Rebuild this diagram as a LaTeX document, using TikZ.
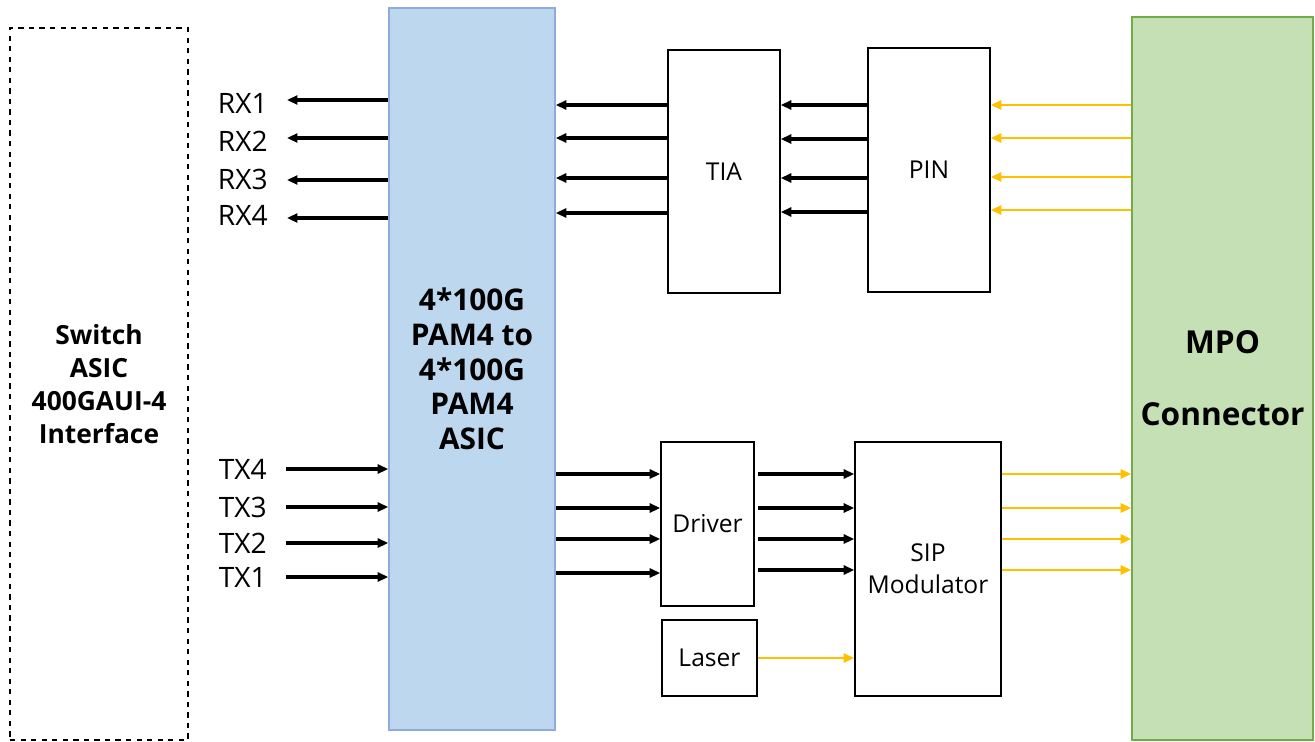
\documentclass[tikz,border=0pt]{standalone}
\usepackage{fontspec}
\setmainfont{Open Sans}
\usetikzlibrary{arrows.meta}
\definecolor{asicblue}{HTML}{BDD7EE}
\definecolor{asicedge}{HTML}{8FAADC}
\definecolor{mpogreen}{HTML}{C5E0B4}
\definecolor{mpoedge}{HTML}{70AD47}
\definecolor{fiber}{HTML}{FFC000}
\tikzset{
    blk/.style={draw, line width=0.9pt, align=center, inner sep=0pt, font=\fontsize{14}{18}\selectfont},
    sig/.style={-{Triangle[length=2.1mm,width=1.8mm]}, line width=1.9pt},
    opt/.style={-{Triangle[length=2.1mm,width=1.8mm]}, line width=1.5pt, fiber},
    lbl/.style={font=\fontsize{16}{18}\selectfont, inner sep=0pt}
}
\begin{document}
\begin{tikzpicture}[x=0.02cm, y=-0.02cm]
    \useasboundingbox (0,0) rectangle (1315,741);

    % Switch
    \node[draw, dashed, line width=0.9pt, minimum width=3.56cm, minimum height=14.24cm, align=center,
          font=\bfseries\fontsize{15}{18.7}\selectfont] (switch) at (99,384) {Switch\\ASIC\\400GAUI-4\\Interface};

    % ASIC
    \node[draw=asicedge, fill=asicblue, line width=0.9pt, minimum width=3.32cm, minimum height=14.44cm, align=center,
          font=\bfseries\fontsize{17}{19.8}\selectfont] (asic) at (472,369) {4*100G\\PAM4 to\\4*100G\\PAM4\\ASIC};

    % MPO
    \node[draw=mpoedge, fill=mpogreen, line width=0.9pt, minimum width=3.62cm, minimum height=14.46cm, align=center,
          font=\bfseries\fontsize{18}{41}\selectfont] (mpo) at (1222.5,378.5) {MPO\\Connector};

    % Receive path
    \node[blk, minimum width=2.24cm, minimum height=4.86cm] (tia) at (724,171.5) {TIA};
    \node[blk, minimum width=2.44cm, minimum height=4.88cm] (pin) at (929,170) {PIN};

    % Transmit path
    \node[blk, minimum width=1.86cm, minimum height=3.28cm] (driver) at (707.5,524) {Driver};
    \node[blk, minimum width=1.9cm, minimum height=1.52cm] (laser) at (709.5,658) {Laser};
    \node[blk, minimum width=2.92cm, minimum height=5.08cm] (sip) at (928,569) {SIP\\Modulator};

    % RX lanes
    \foreach \i/\y/\a in {1/103/100,2/141/138,3/179/180,4/215/218} {
        \node[lbl, anchor=east] (rx\i) at (268,\y) {RX\i};
        \draw[sig] (asic.west |- 0,\a) -- ([xshift=0.38cm]rx\i.east |- 0,\a);
    }

    % TX lanes
    \foreach \i/\y in {4/469,3/507,2/543,1/577} {
        \node[lbl, anchor=east] (tx\i) at (267,\y) {TX\i};
        \draw[sig] ([xshift=0.38cm]tx\i.east) -- (asic.west |- tx\i);
    }

    % receive arrows
    \foreach \y in {105,138,178,213}
        \draw[sig] (tia.west |- 0,\y) -- (asic.east |- 0,\y);
    \foreach \y in {105,139,178,212}
        \draw[sig] (pin.west |- 0,\y) -- (tia.east |- 0,\y);
    \foreach \y in {105,138,177,210}
        \draw[opt] (mpo.west |- 0,\y) -- (pin.east |- 0,\y);

    % transmit arrows
    \foreach \y in {474,508,539,573}
        \draw[sig] (asic.east |- 0,\y) -- (driver.west |- 0,\y);
    \foreach \y in {474,508,539,570}
        \draw[sig] ([xshift=0.06cm]driver.east |- 0,\y) -- (sip.west |- 0,\y);
    \foreach \y in {474,508,539,570}
        \draw[opt] (sip.east |- 0,\y) -- (mpo.west |- 0,\y);
    \draw[opt] (laser) -- (sip.west |- laser);
\end{tikzpicture}
\end{document}
